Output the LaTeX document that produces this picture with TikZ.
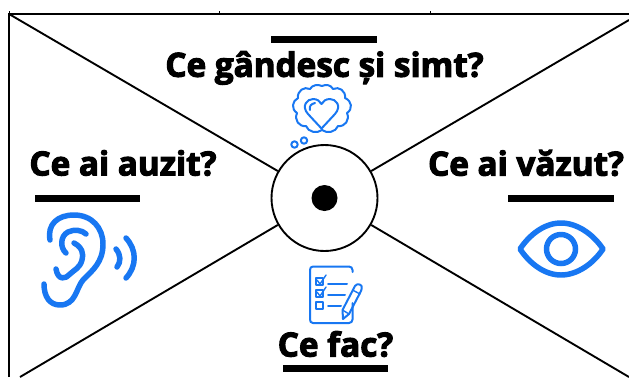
\documentclass[tikz,border=0pt]{standalone}
\usepackage{fontspec}
\setmainfont{Open Sans}[BoldFeatures={FakeBold=3.2}]
\definecolor{iconblue}{HTML}{1877F2}
\tikzset{
 wire/.style={draw=black,line width=1.9pt},
 bar/.style={fill=black,draw=none},
 head/.style={font=\bfseries\fontsize{33.4}{38}\selectfont,inner sep=0pt,text=black},
 icon/.style={draw=iconblue,line width=2pt,line cap=round,line join=round,fill=none},
 iconb/.style={draw=iconblue,line width=5.5pt,line cap=round,line join=round,fill=none},
 iconc/.style={draw=iconblue,line width=5.5pt,fill=none}
}
\begin{document}
\begin{tikzpicture}[x=1bp,y=-1bp]
\useasboundingbox (0,0) rectangle (629,377);
\fill[white] (0,0) rectangle (629,377);
% frame
\coordinate (tl) at (9,14); \coordinate (tr) at (629,14); \coordinate (bl) at (9,377);
\draw[wire] (bl) -- (tl) -- (tr);
\coordinate (t1) at (219,11); \coordinate (t1b) at (219,14);
\coordinate (t2) at (430,11); \coordinate (t2b) at (430,14);
\draw[black,line width=1pt] (t1) -- (t1b) (t2) -- (t2b);
\coordinate (c2) at (9,11); \draw[black,line width=1pt] (c2) -- (tl);
% centre
\node[circle,draw=black,line width=1.9pt,fill=white,minimum size=106bp,inner sep=0pt] (hub) at (324.5,198) {};
\node[circle,fill=black,minimum size=26bp,inner sep=0pt] (dot) at (324.5,198) {};
\coordinate (ctr) at (629,20); \coordinate (cbl) at (20,377); \coordinate (cbr) at (629,377);
\draw[wire] (tl) -- (hub.150);
\draw[wire] (ctr) -- (hub.30);
\draw[wire] (cbl) -- (hub.210);
\draw[wire] (cbr) -- (hub.330);
% bars
\fill[bar] (271,36) rectangle (377,43);
\fill[bar] (35,195) rectangle (140,202);
\fill[bar] (508,195) rectangle (614,202);
\fill[bar] (283,365) rectangle (388,372);
% text
\node[head] (tA) at (324.5,68) {Ce gândesc și simt?};
\node[head] (tB) at (123,163) {Ce ai auzit?};
\node[head] (tC) at (526,163) {Ce ai văzut?};
\node[head] (tD) at (335.5,344) {Ce fac?};
% thought icon
\draw[icon] (322,86) .. controls (326,84) and (331,85) .. (333,89)
 .. controls (339,86) and (346,91) .. (345,98)
 .. controls (352,101) and (353,109) .. (347,113)
 .. controls (350,120) and (345,127) .. (338,126)
 .. controls (336,132) and (327,134) .. (322,130)
 .. controls (317,134) and (308,132) .. (306,126)
 .. controls (299,127) and (294,120) .. (297,113)
 .. controls (291,109) and (292,101) .. (298,98)
 .. controls (297,91) and (304,86) .. (310,89)
 .. controls (312,85) and (318,84) .. (322,86) -- cycle;
\draw[icon] (321.5,128.5) -- (308,114) .. controls (301,106) and (307,99) .. (313,99)
 .. controls (317,99) and (320,101) .. (321.5,104)
 .. controls (323,101) and (326,99) .. (330,99)
 .. controls (336,99) and (342,106) .. (335,114) -- cycle;
\draw[icon] (310,110) .. controls (309,106) and (311,104) .. (315,103);
\draw[icon] (294.5,144.5) circle (3.2bp);
\draw[icon] (304,140.5) circle (3.2bp);
% ear
\draw[iconb] (50,240) .. controls (47,224) and (58,215) .. (74,215)
 .. controls (92,215) and (103,228) .. (103,244)
 .. controls (103,262) and (93,270) .. (83,280)
 .. controls (76,288) and (76,305) .. (60,305)
 .. controls (50,305) and (44,297) .. (44,284);
\draw[iconb] (66,253) .. controls (60,248) and (60,236) .. (68,232)
 .. controls (74,229) and (82,230) .. (86,234);
\draw[iconb] (74,243) .. controls (82,247) and (84,254) .. (82,260)
 .. controls (80,268) and (74,270) .. (70,274)
 .. controls (66,279) and (58,281) .. (56,269);
\draw[iconb] (116,249) .. controls (121,255) and (121,262) .. (117,267);
\draw[iconb] (126,238) .. controls (137,250) and (137,266) .. (126,278);
% checklist
\draw[icon] (352.5,272) -- (352.5,270) .. controls (352.5,268) and (351,266.5) .. (349,266.5) -- (313,266.5) .. controls (311,266.5) and (310,268) .. (310,270) -- (310,319.5) .. controls (310,321.5) and (311,323) .. (313,323) -- (349,323) .. controls (351,323) and (352.5,321.5) .. (352.5,319.5) -- (352.5,303);
\draw[icon,line width=1.6pt] (316,278) rectangle (323,285);
\draw[icon,line width=1.6pt] (316,290) rectangle (323,297);
\draw[icon,line width=1.6pt] (316,302) rectangle (323,309);
\draw[icon,line width=1.4pt] (317,280) -- (320,284) -- (326,275);
\draw[icon,line width=1.4pt] (317,292) -- (320,296) -- (326,287);
\draw[icon] (328,284) -- (347,284) (328,295) -- (345,295) (328,306) -- (341,306);
\draw[icon] (343,319) -- (342.5,310) -- (355,286) .. controls (357,283) and (361,284.5) .. (361.5,286) .. controls (362,288) and (361.5,290) .. (361,291) -- (349,314) -- cycle;
\draw[icon,line width=1.4pt] (352.5,290) -- (360,294);
\draw[icon,line width=1.4pt] (342.5,310) -- (349,314);
% eye
\draw[iconc,line join=round] (520,249) .. controls (530,234) and (545,223) .. (561,223)
 .. controls (577,223) and (593,234) .. (603,249)
 .. controls (593,264) and (577,275) .. (561,275)
 .. controls (545,275) and (530,264) .. (520,249) -- cycle;
\draw[iconc] (561,249) circle (14.5bp);
\end{tikzpicture}
\end{document}
